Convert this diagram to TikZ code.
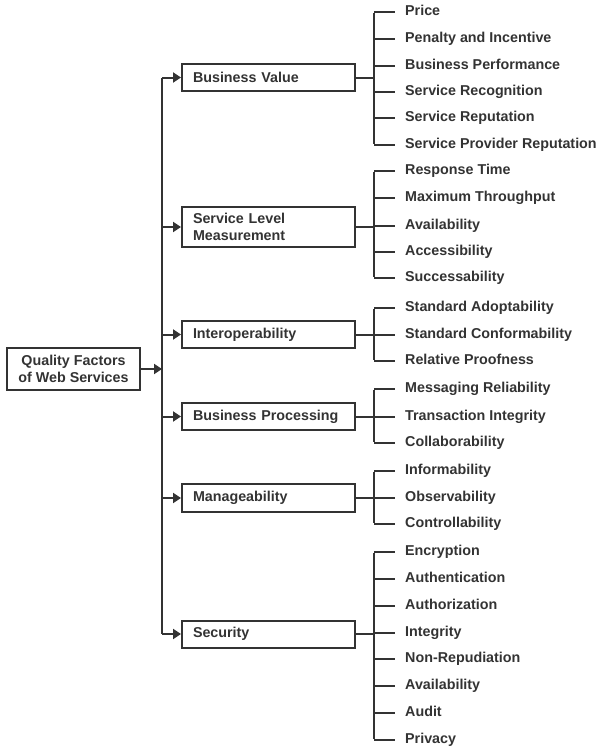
\documentclass[tikz,border=0pt]{standalone}
\usepackage{fontspec}
\setmainfont{Liberation Sans}
\usetikzlibrary{arrows.meta}
\definecolor{ink}{HTML}{333333}
\begin{document}
\begin{tikzpicture}[x=1pt,y=-1pt,
  every node/.style={font=\fontsize{14.3}{16.5}\selectfont\bfseries, text=ink},
  conn/.style={draw=ink, line width=2pt},
  arr/.style={conn, -{Triangle[length=8pt,width=10pt]}},
  catbox/.style={draw=ink, line width=2pt, anchor=west, align=left,
    text width=151pt, inner xsep=11pt, inner ysep=2pt, minimum height=27pt},
  rootbox/.style={draw=ink, line width=2pt, align=center,
    minimum width=133pt, minimum height=42pt, inner sep=2pt},
  leaf/.style={anchor=west, inner xsep=0pt, inner ysep=1pt, text height=10.5pt, text depth=3pt}]
\useasboundingbox (0,0) rectangle (598,752);

% root
\node[rootbox] (root) at (73.5,369) {Quality Factors\\of Web Services};

% categories
\node[catbox] (bv)  at (181,77.5) {Business Value};
\node[catbox, minimum height=40pt] (slm) at (181,227) {Service Level\\Measurement};
\node[catbox] (io)  at (181,334.5) {Interoperability};
\node[catbox] (bp)  at (181,416.5) {Business Processing};
\node[catbox, minimum height=28pt] (mg)  at (181,498) {Manageability};
\node[catbox] (secu) at (181,634) {Security};

% trunk
\coordinate (tk) at (162,0);
\draw[conn] (tk |- bv.west) -- (tk |- secu.west);
\draw[arr] (root.east) -- (tk |- root.east);
\foreach \c in {bv,slm,io,bp,mg,secu}
  \draw[arr] (tk |- \c.west) -- (\c.west);

% leaves
\foreach \n/\yy/\t in {
  bva/12/Price, bvb/39/Penalty and Incentive, bvc/66/Business Performance,
  bvd/92/Service Recognition, bve/118/Service Reputation, bvf/145/Service Provider Reputation,
  sla/171/Response Time, slb/198/Maximum Throughput, slc/226/Availability,
  sld/252/Accessibility, sle/278/Successability,
  ioa/308/Standard Adoptability, iob/334.5/Standard Conformability, ioc/361/Relative Proofness,
  bpa/389/Messaging Reliability, bpb/416.5/Transaction Integrity, bpc/443/Collaborability,
  mga/471/Informability, mgb/498/Observability, mgc/524/Controllability,
  sea/552/Encryption, seb/579/Authentication, sec/606/Authorization, sed/633/Integrity,
  see/659/Non-Repudiation, sef/686/Availability, seg/713/Audit, seh/740/Privacy}
  \node[leaf] (\n) at (405,\yy) {\t};

% brackets
\coordinate (bk) at (374,0);
\foreach \c/\first/\last/\all in {
  bv/bva/bvf/{bva,bvb,bvc,bvd,bve,bvf},
  slm/sla/sle/{sla,slb,slc,sld,sle},
  io/ioa/ioc/{ioa,iob,ioc},
  bp/bpa/bpc/{bpa,bpb,bpc},
  mg/mga/mgc/{mga,mgb,mgc},
  secu/sea/seh/{sea,seb,sec,sed,see,sef,seg,seh}}{
  \draw[conn] (\c.east) -- (bk |- \c.east);
  \draw[conn] ([yshift=-1pt]bk |- \first.west) -- ([yshift=1pt]bk |- \last.west);
  \foreach \l in \all
    \draw[conn] (bk |- \l.west) -- ([xshift=-10pt]\l.west);
}
\end{tikzpicture}
\end{document}
